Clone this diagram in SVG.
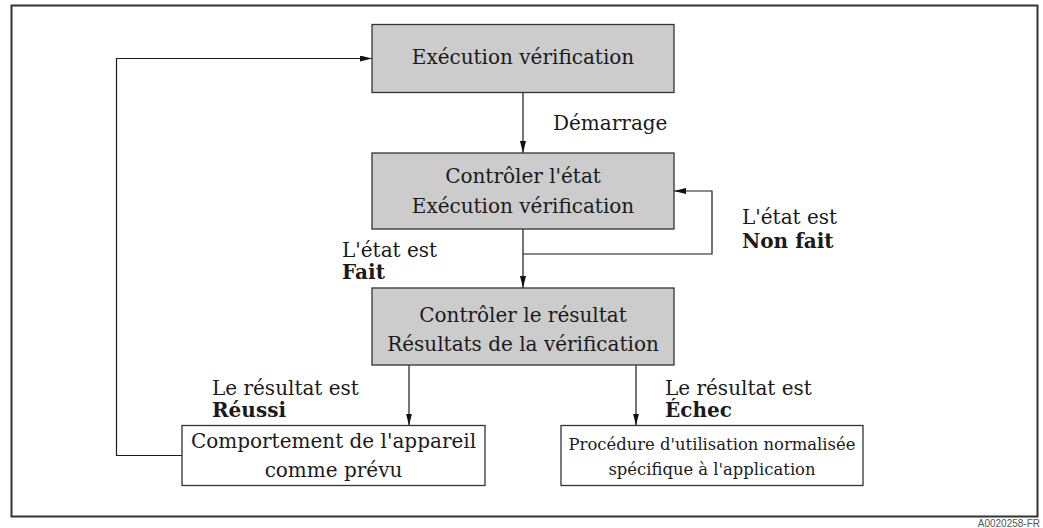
<svg xmlns="http://www.w3.org/2000/svg" width="1043" height="528" viewBox="0 0 1043 528">
<style>
  text { font-family: "DejaVu Serif", "Liberation Serif", serif; fill: #1a1a1a; }
  .t { font-size: 20px; text-anchor: middle; }
  .s { font-size: 16.4px; text-anchor: middle; }
  .l { font-size: 20px; }
  .b { font-weight: bold; }
  .grey { fill: #cccccc; stroke: #333333; stroke-width: 1.3; }
  .white { fill: #ffffff; stroke: #333333; stroke-width: 1.3; }
  .conn { fill: none; stroke: #1a1a1a; stroke-width: 1.2; }
</style>
<defs>
  <marker id="arr" viewBox="0 0 12 6" refX="12" refY="3" markerWidth="12" markerHeight="6" markerUnits="userSpaceOnUse" orient="auto">
    <path d="M0,0 L12,3 L0,6 Z" fill="#111111"/>
  </marker>
</defs>
<rect x="0" y="0" width="1043" height="528" fill="#ffffff"/>
<rect id="frame" x="11.5" y="5.5" width="1026" height="511" fill="none" stroke="#333333" stroke-width="2"/>
<text x="1040" y="527" font-size="10" text-anchor="end" style="fill:#555555;font-family:'Liberation Sans',sans-serif">A0020258-FR</text>

<g id="connectors">
  <path class="conn" d="M523,92.5 V153" marker-end="url(#arr)"/>
  <path class="conn" d="M523,229 V288" marker-end="url(#arr)"/>
  <path class="conn" d="M523,254 H712 V191 H674" marker-end="url(#arr)"/>
  <path class="conn" d="M409,365 V425.5" marker-end="url(#arr)"/>
  <path class="conn" d="M636,365 V425.5" marker-end="url(#arr)"/>
  <path class="conn" d="M182,455.5 H116.5 V58.5 H372" marker-end="url(#arr)"/>
</g>

<g id="node-execution">
  <rect class="grey" x="372" y="24.5" width="302" height="68"/>
  <text class="t" x="523" y="64">Exécution vérification</text>
</g>
<g id="node-etat">
  <rect class="grey" x="372" y="153" width="302" height="76"/>
  <text class="t" x="523" y="183">Contrôler l'état</text>
  <text class="t" x="523" y="213">Exécution vérification</text>
</g>
<g id="node-resultat">
  <rect class="grey" x="372" y="288" width="302" height="77"/>
  <text class="t" x="523" y="322">Contrôler le résultat</text>
  <text class="t" x="523" y="351">Résultats de la vérification</text>
</g>
<g id="node-comportement">
  <rect class="white" x="182" y="425.5" width="303" height="60"/>
  <text class="t" x="333.5" y="448">Comportement de l'appareil</text>
  <text class="t" x="333.5" y="477">comme prévu</text>
</g>
<g id="node-procedure">
  <rect class="white" x="561" y="425.5" width="302" height="60"/>
  <text class="s" x="712" y="450">Procédure d'utilisation normalisée</text>
  <text class="s" x="712" y="475">spécifique à l'application</text>
</g>

<g id="labels">
  <text class="l" x="553" y="130">Démarrage</text>
  <text class="l" x="342" y="257">L'état est</text>
  <text class="l b" x="342" y="279">Fait</text>
  <text class="l" x="742" y="224">L'état est</text>
  <text class="l b" x="742" y="248">Non fait</text>
  <text class="l" x="212" y="395">Le résultat est</text>
  <text class="l b" x="212" y="417">Réussi</text>
  <text class="l" x="665" y="395">Le résultat est</text>
  <text class="l b" x="665" y="417">Échec</text>
</g>
</svg>
